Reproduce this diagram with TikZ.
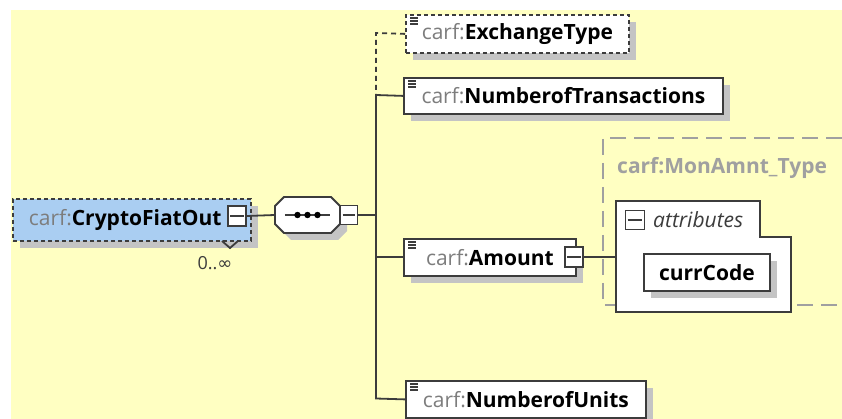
\documentclass[tikz,border=0pt]{standalone}
\usepackage{fontspec}
\setmainfont{Open Sans}
\newfontfamily\symbolfont{DejaVu Sans}
\usetikzlibrary{positioning, shadows, calc}

\definecolor{bgyellow}{RGB}{255,255,194}
\definecolor{cfoblue}{RGB}{170,206,242}
\definecolor{linegray}{RGB}{60,60,60}
\definecolor{prefixgray}{RGB}{125,125,125}
\definecolor{shadowgray}{RGB}{196,196,196}
\definecolor{typegray}{RGB}{160,160,160}

\newcommand{\carf}[1]{{\color{prefixgray}carf:}\textbf{#1}}

\tikzset{
  shadowed/.style={drop shadow={shadow xshift=7pt, shadow yshift=-7pt,
      opacity=1, fill=shadowgray}},
  elem/.style={draw=linegray, line width=1.8pt, fill=white, anchor=north west,
    inner sep=0pt, minimum height=36pt, font=\fontsize{21}{24}\selectfont, shadowed},
  optelem/.style={elem, dash pattern=on 4pt off 3pt},
  minusbox/.style={draw=linegray, line width=1.6pt, fill=white, inner sep=0pt,
    minimum width=18pt, minimum height=20pt},
  wire/.style={linegray, line width=1.8pt}
}

\newcommand{\elemicon}[1]{%
  \foreach \dy in {4,7,10}
    \draw[linegray, line width=1.1pt] ($(#1.north west)+(5,\dy)$) -- ++(8,0);}
\newcommand{\minusline}[1]{%
  \draw[linegray, line width=1.6pt] ($(#1.west)+(3,0)$) -- ($(#1.east)+(-3,0)$);}

\begin{document}
\begin{tikzpicture}[x=1pt, y=-1pt]
  % Background
  \useasboundingbox (0,0) rectangle (842,419);
  \fill[bgyellow] (11,10) rectangle (842,419);

  % Root element
  \node (cfo) [elem, fill=cfoblue, dash pattern=on 4pt off 3pt,
    minimum width=238pt, minimum height=42pt, shadow xshift=5pt]
    at (12,198) {\makebox[238pt][l]{\hspace{16pt}\carf{CryptoFiatOut}}};
  \node (cfom) [minusbox] at (237,216) {};
  \minusline{cfom}
  \draw[wire] (222,241) -- (230,248) -- (238,241);
  \node (occ) [text=linegray, font=\fontsize{18}{21}\selectfont] at (215,263)
    {0..{\symbolfont ∞}};

  % Sequence compositor
  \node (seq) [minimum width=65pt, minimum height=36pt, inner sep=0pt]
    at (307.5,215) {};
  \fill[shadowgray, shift={($(seq.center)+(7,7)$)}]
    (-23.5,-18) -- (23.5,-18) -- (32.5,-9) -- (32.5,9) -- (23.5,18)
    -- (-23.5,18) -- (-32.5,9) -- (-32.5,-9) -- cycle;
  \filldraw[wire, fill=white, shift={(seq.center)}]
    (-23.5,-18) -- (23.5,-18) -- (32.5,-9) -- (32.5,9) -- (23.5,18)
    -- (-23.5,18) -- (-32.5,9) -- (-32.5,-9) -- cycle;
  \draw[wire] ($(seq.west)+(10,0)$) -- ($(seq.east)+(-10,0)$);
  \foreach \dx in {-10,0,10}
    \fill[black] ($(seq.center)+(\dx,0)$) circle (3.2);
  \node (seqm) [minusbox, minimum width=17pt, minimum height=19pt]
    at (349,215) {};
  \minusline{seqm}
  \draw[wire] (cfom.east) -- (seq.west);

  % Children
  \node (ex) [optelem, minimum width=223pt, minimum height=38pt] at (405,14)
    {\carf{ExchangeType}};
  \elemicon{ex}
  \node (ntr) [elem, minimum width=319pt] at (403,77)
    {\carf{NumberofTransactions}};
  \elemicon{ntr}
  \node (amt) [elem, minimum width=172pt, minimum height=37pt] at (403,238)
    {\carf{Amount}\hspace{10pt}};
  \elemicon{amt}
  \node (amtm) [minusbox] at (574,257) {};
  \minusline{amtm}
  \node (nou) [elem, minimum width=240pt, minimum height=37pt] at (405,380)
    {\carf{NumberofUnits}};
  \elemicon{nou}

  % Connectors to the sequence bus
  \coordinate (bustop) at (376,33);
  \coordinate (busmid) at (376,95);
  \coordinate (busbot) at (376,398.5);
  \draw[wire, dash pattern=on 5pt off 4pt] (ex.west) -- (bustop) -- (busmid);
  \draw[wire] (ntr.west) -- (busmid) -- (busbot) -- (nou.west);
  \draw[wire] (seqm.east) -- (seqm.east -| busmid);
  \draw[wire] (amt.west) -- (amt.west -| busmid);

  % Complex type
  \draw[typegray, line width=1.6pt, dash pattern=on 16pt off 8pt]
    (842,138) -- (603,138) -- (603,305) -- (842,305);
  \node (mtype) [anchor=west, text=typegray, inner sep=0pt,
    font=\fontsize{21}{24}\selectfont\bfseries] at (617,168) {carf:MonAmnt\_Type};
  \filldraw[wire, fill=white]
    (616,201) -- (760,201) -- (760,237) -- (791,237) -- (791,312) -- (616,312) -- cycle;
  \coordinate (attr) at (616,257);
  \node (attm) [minusbox, minimum width=19pt, minimum height=19pt] at (635,220) {};
  \minusline{attm}
  \node (attl) [anchor=west, inner sep=0pt, text=linegray,
    font=\fontsize{21}{24}\selectfont\itshape] at (653,220) {attributes};
  \node (cur) [elem, minimum width=126pt, minimum height=37pt] at (643,253)
    {\textbf{currCode}};
  \draw[wire] (amtm.east) -- (attr);
\end{tikzpicture}
\end{document}
